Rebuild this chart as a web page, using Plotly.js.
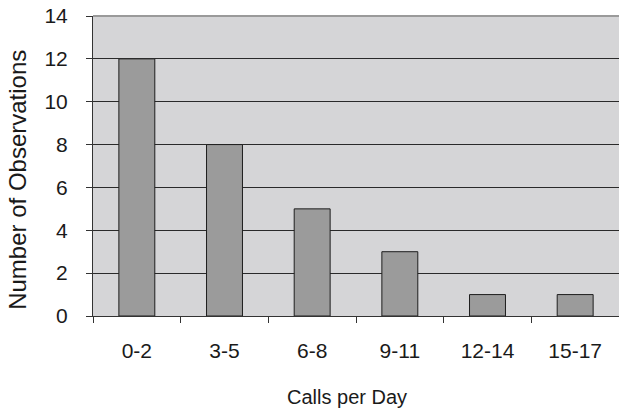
<!DOCTYPE html>
<html>
<head>
<meta charset="utf-8">
<script src="https://cdn.plot.ly/plotly-3.0.1.min.js"></script>
<style>
html,body{margin:0;padding:0;overflow:hidden;background:#fff;}
#chart{width:619px;height:408px;}
</style>
</head>
<body>
<div id="chart"></div>
<script>
const categories = ["0-2", "3-5", "6-8", "9-11", "12-14", "15-17"];
const observations = [12, 8, 5, 3, 1, 1];
const yTickValues = [0, 2, 4, 6, 8, 10, 12, 14];
const xTitle = "Calls per Day";
const yTitle = "Number of Observations";

const font = "Liberation Sans, Arial, Helvetica, sans-serif";

const trace = {
  type: "bar",
  x: categories,
  y: observations,
  marker: {color: "#9b9b9b", line: {color: "#1e1e1e", width: 1}},
  hoverinfo: "x+y"
};

const layout = {
  width: 619,
  height: 408,
  margin: {l: 93, r: 0, t: 16, b: 92, pad: 0},
  paper_bgcolor: "#ffffff",
  plot_bgcolor: "#d5d5d7",
  bargap: 0.59,
  showlegend: false,
  font: {family: font, color: "#1a1a1a"},
  xaxis: {
    type: "category",
    range: [-0.5, 5.5],
    tickson: "boundaries",
    ticks: "outside",
    ticklen: 6,
    tickcolor: "#333",
    tickwidth: 1,
    showline: true,
    linecolor: "#333",
    linewidth: 1,
    showgrid: false,
    zeroline: false,
    tickfont: {family: font, size: 21, color: "#1a1a1a"},
    ticklabelstandoff: 16,
    fixedrange: true
  },
  yaxis: {
    range: [0, 14],
    tickvals: yTickValues,
    ticks: "outside",
    ticklen: 6,
    tickcolor: "#333",
    tickwidth: 1,
    showline: true,
    linecolor: "#333",
    linewidth: 1,
    showgrid: true,
    gridcolor: "#2a2a2a",
    gridwidth: 1,
    zeroline: false,
    tickfont: {family: font, size: 21, color: "#1a1a1a"},
    ticklabelstandoff: 14,
    fixedrange: true
  },
  shapes: [{
    type: "line", xref: "paper", yref: "paper",
    x0: 0, x1: 1, y0: 1, y1: 1,
    line: {color: "#9a9a9a", width: 2},
    layer: "above"
  }],
  annotations: [
    {
      text: xTitle, xref: "paper", yref: "paper",
      x: 0.483, y: -0.27, xanchor: "center", yanchor: "middle",
      showarrow: false, font: {family: font, size: 20, color: "#1a1a1a"}
    },
    {
      text: yTitle, xref: "paper", yref: "paper",
      x: -0.145, y: 0.453, xanchor: "center", yanchor: "middle",
      textangle: -90,
      showarrow: false, font: {family: font, size: 24, color: "#1a1a1a"}
    }
  ]
};

Plotly.newPlot("chart", [trace], layout, {displayModeBar: false});
</script>
</body>
</html>
